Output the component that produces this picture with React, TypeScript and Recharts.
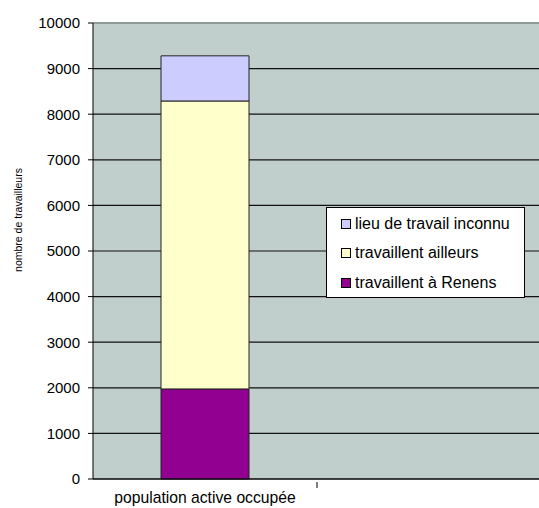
import { BarChart, Bar, XAxis, YAxis, CartesianGrid, ReferenceLine } from "recharts";

const categories = ["population active occupée", ""];
const renens = [1975, null];
const ailleurs = [6315, null];
const inconnu = [990, null];
const yTicks = [0, 1000, 2000, 3000, 4000, 5000, 6000, 7000, 8000, 9000, 10000];

const legendItems = [
  { label: "lieu de travail inconnu", color: "#CCCCFF" },
  { label: "travaillent ailleurs", color: "#FFFFCC" },
  { label: "travaillent à Renens", color: "#920092" },
];

const data = categories.map((name, i) => ({
  name,
  renens: renens[i],
  ailleurs: ailleurs[i],
  inconnu: inconnu[i],
}));

const font = "'Liberation Sans', Arial, sans-serif";

// category label in the middle, tick mark on the band's right edge
function CategoryTick(props: any) {
  const { x, y, payload, index } = props;
  const band = 224;
  return (
    <g>
      {index === 0 && (
        <line x1={x + band / 2} x2={x + band / 2} y1={y - 5} y2={y + 1} stroke="#000" />
      )}
      <text x={x} y={y + 16} textAnchor="middle" fontSize={15.7} fontFamily={font} fill="#000">
        {payload.value}
      </text>
    </g>
  );
}

function LegendBox() {
  return (
    <div
      style={{
        position: "absolute",
        left: 326,
        top: 207,
        background: "#fff",
        border: "1px solid #000",
        width: 199,
        height: 91,
        boxSizing: "border-box",
        padding: "1px 0 0 14px",
        fontFamily: font,
        fontSize: 16,
      }}
    >
      {legendItems.map((it) => (
        <div key={it.label} style={{ display: "flex", alignItems: "center", height: 29.5 }}>
          <span
            style={{
              display: "inline-block",
              width: 8,
              height: 8,
              background: it.color,
              border: "1px solid #000",
              marginRight: 4,
            }}
          />
          <span>{it.label}</span>
        </div>
      ))}
    </div>
  );
}

export default function App() {
  return (
    <div style={{ position: "absolute", left: 0, top: 0, width: 539, height: 508, overflow: "hidden", background: "#fff" }}>
      <BarChart
        width={560}
        height={508}
        data={data}
        margin={{ top: 23, right: 19, left: 0, bottom: 0 }}
        barSize={88}
      >
        <CartesianGrid vertical={false} stroke="#111" strokeWidth={1.2} fill="#C1CFCC" fillOpacity={1} />
        <ReferenceLine y={10000} stroke="#8c9a98" strokeWidth={2} />
        <XAxis
          dataKey="name"
          height={29}
          axisLine={{ stroke: "#000" }}
          tickLine={false}
          tick={<CategoryTick />}
          interval={0}
        />
        <YAxis
          width={93}
          domain={[0, 10000]}
          ticks={yTicks}
          interval={0}
          tickSize={5}
          tickMargin={8}
          axisLine={{ stroke: "#000" }}
          tickLine={{ stroke: "#000" }}
          tick={{ fontSize: 15, fontFamily: font, fill: "#000" }}
          label={{
            value: "nombre de travailleurs",
            angle: -90,
            position: "insideLeft",
            offset: 0,
            dx: 18,
            dy: -31,
            style: { fontSize: 10.5, fontFamily: font, fill: "#000", textAnchor: "middle" },
          }}
        />
        <Bar dataKey="renens" stackId="a" fill="#920092" stroke="#222" strokeWidth={1} isAnimationActive={false} />
        <Bar dataKey="ailleurs" stackId="a" fill="#FFFFCC" stroke="#222" strokeWidth={1} isAnimationActive={false} />
        <Bar dataKey="inconnu" stackId="a" fill="#CCCCFF" stroke="#222" strokeWidth={1} isAnimationActive={false} />
      </BarChart>
      <LegendBox />
    </div>
  );
}
